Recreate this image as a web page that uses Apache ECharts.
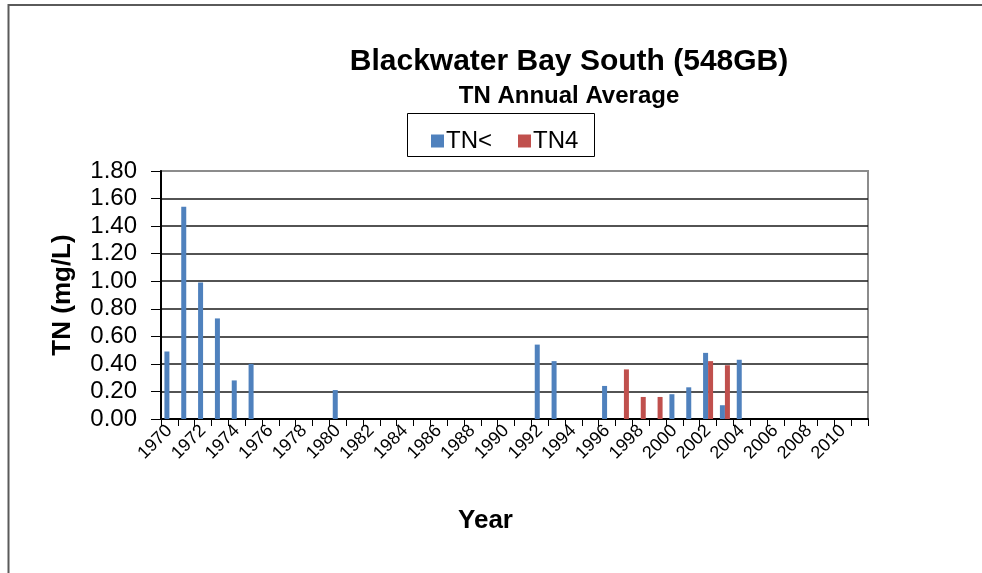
<!DOCTYPE html>
<html>
<head>
<meta charset="utf-8">
<script src="https://cdn.jsdelivr.net/npm/echarts@6/dist/echarts.min.js"></script>
<style>
html,body{margin:0;padding:0;background:#fff;}
#c{width:982px;height:573px;}
</style>
</head>
<body>
<div id="c"></div>
<script>
var years = [];
for (var y = 1970; y <= 2011; y++) years.push(String(y));

var tnLessYears  = ['1970','1971','1972','1973','1974','1975','1980','1992','1993','1996','2000','2001','2002','2003','2004'];
var tnLessValues = [0.49, 1.54, 0.99, 0.73, 0.28, 0.40, 0.21, 0.54, 0.42, 0.24, 0.18, 0.23, 0.48, 0.10, 0.43];
var tn4Years  = ['1997','1998','1999','2002','2003'];
var tn4Values = [0.36, 0.16, 0.16, 0.42, 0.39];

var yTicks = [0, 0.2, 0.4, 0.6, 0.8, 1.0, 1.2, 1.4, 1.6, 1.8];

function toSeries(ys, vs) {
  return years.map(function (yr) {
    var i = ys.indexOf(yr);
    return i >= 0 ? vs[i] : null;
  });
}

var FONT = "'Liberation Sans', Arial, sans-serif";
var chart = echarts.init(document.getElementById('c'), null, {renderer: 'canvas'});

var splitColors = yTicks.map(function (v, i) { return i === yTicks.length - 1 ? '#8c8c8c' : '#1a1a1a'; });

chart.setOption({
  animation: false,
  backgroundColor: '#fff',
  textStyle: {fontFamily: FONT},
  title: [
    {text: 'Blackwater Bay South (548GB)', left: 564, top: 42, textAlign: 'center',
     textStyle: {fontFamily: FONT, fontSize: 30, fontWeight: 'bold', color: '#000'}},
    {text: 'TN Annual Average', left: 564, top: 79, textAlign: 'center',
     textStyle: {fontFamily: FONT, fontSize: 24, fontWeight: 'bold', color: '#000'}}
  ],
  legend: {
    left: 426, top: 124,
    icon: 'rect', itemWidth: 13, itemHeight: 13, itemGap: 26,
    textStyle: {fontFamily: FONT, fontSize: 24, color: '#000', padding: [0,0,0,-3]},
    data: ['TN<', 'TN4']
  },
  graphic: [
    {type: 'rect', shape: {x: 8.5, y: 5, width: 1100, height: 1000},
     style: {fill: null, stroke: '#5a5a5a', lineWidth: 2}, silent: true, z: 100},
    {type: 'rect', shape: {x: 407.5, y: 113.5, width: 187, height: 43},
     style: {fill: null, stroke: '#000', lineWidth: 1}, silent: true, z: 100}
  ],
  grid: {left: 161, right: 114, top: 171, bottom: 154, show: true,
         borderColor: '#8c8c8c', borderWidth: 2, backgroundColor: 'transparent'},
  xAxis: {
    type: 'category',
    data: years,
    boundaryGap: true,
    name: 'Year',
    nameLocation: 'middle',
    nameGap: 89,
    nameTextStyle: {fontFamily: FONT, fontSize: 26, fontWeight: 'bold', color: '#000', padding: [0, 58, 0, 0]},
    axisLine: {lineStyle: {color: '#000', width: 2}},
    axisTick: {show: true, interval: 0, length: 7, lineStyle: {color: '#000', width: 1}},
    axisLabel: {interval: 1, rotate: 45, margin: 9, fontFamily: FONT, fontSize: 18, color: '#000'},
    splitLine: {show: false}
  },
  yAxis: {
    type: 'value',
    min: 0, max: 1.8, interval: 0.2,
    name: 'TN (mg/L)',
    nameLocation: 'middle',
    nameGap: 85,
    nameTextStyle: {fontFamily: FONT, fontSize: 26, fontWeight: 'bold', color: '#000'},
    axisLine: {show: true, lineStyle: {color: '#000', width: 2}},
    axisTick: {show: true, length: 10, lineStyle: {color: '#000', width: 1}},
    axisLabel: {margin: 24, fontFamily: FONT, fontSize: 24, color: '#000',
                formatter: function (v) { return v.toFixed(2); }},
    splitLine: {show: true, lineStyle: {color: splitColors, width: 1.5}}
  },
  series: [
    {name: 'TN<', type: 'bar', data: toSeries(tnLessYears, tnLessValues),
     barWidth: 5, barGap: '0%', itemStyle: {color: '#4F81BD'}},
    {name: 'TN4', type: 'bar', data: toSeries(tn4Years, tn4Values),
     barWidth: 5, barGap: '0%', itemStyle: {color: '#C0504D'}}
  ]
});
</script>
</body>
</html>
